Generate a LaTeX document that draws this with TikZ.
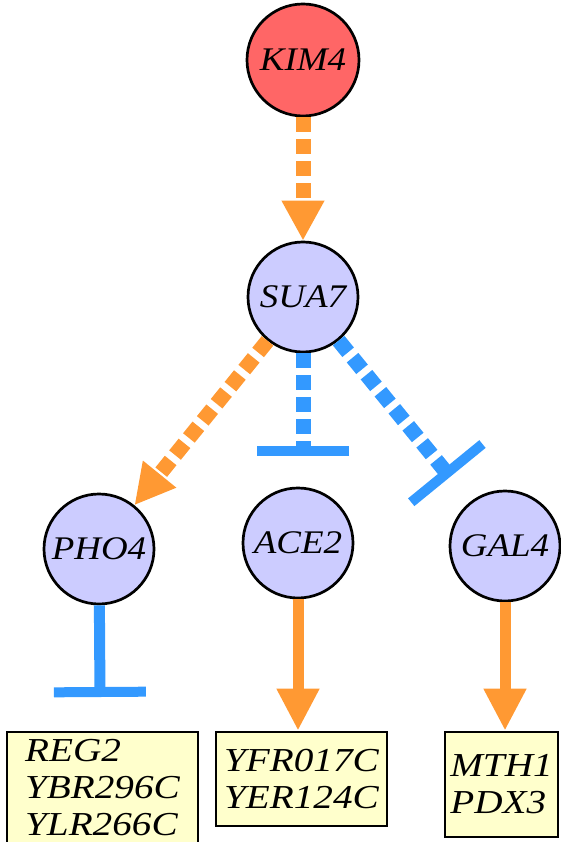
\documentclass[tikz,border=0pt]{standalone}
\usepackage{fontspec}
\newfontfamily\gfont[FakeStretch=1.12]{Liberation Serif}
\newfontfamily\bfontx[FakeStretch=1.17]{Liberation Serif}
\usetikzlibrary{arrows.meta}
\definecolor{nodered}{HTML}{FF6666}
\definecolor{nodeblue}{HTML}{CCCCFF}
\definecolor{boxyellow}{HTML}{FFFFCC}
\definecolor{actorange}{HTML}{FF9933}
\definecolor{inhblue}{HTML}{3399FF}
\tikzset{
  gene/.style={circle, draw=black, line width=2.7pt, fill=nodeblue, minimum size=110pt, inner sep=0pt,
    font=\gfont\itshape\fontsize{33}{37}\selectfont},
  targets/.style={rectangle, draw=black, line width=2.7pt, fill=boxyellow, inner xsep=4pt, align=left,
    font=\bfontx\itshape\fontsize{33.5}{37}\selectfont},
  actdash/.style={draw=actorange, line width=15pt, dash pattern=on 15pt off 7pt, -{Triangle[width=40pt,length=40pt]}},
  inhdash/.style={draw=inhblue, line width=15pt, dash pattern=on 15pt off 7pt, -{Bar[width=92pt,line width=10pt]}},
  actsolid/.style={draw=actorange, line width=11pt, -{Triangle[width=40pt,length=42pt]}},
  inhsolid/.style={draw=inhblue, line width=11pt, -{Bar[width=92pt,line width=10pt]}}
}
\begin{document}
\begin{tikzpicture}[x=1pt,y=-1pt]
\useasboundingbox (0,0) rectangle (560,842);
\node[gene, fill=nodered, minimum size=112pt] (kim4) at (303,60) {KIM4};
\node[gene] (sua7) at (303,297) {SUA7};
\node[gene] (pho4) at (99,549) {PHO4};
\node[gene] (ace2) at (298,543) {ACE2};
\node[gene] (gal4) at (505,546) {GAL4};
\node[targets, minimum width=191pt, minimum height=112pt] (b1) at (102.5,788) {REG2\\YBR296C\\YLR266C};
\node[targets, minimum width=171pt, minimum height=94pt] (b2) at (301.5,779) {YFR017C\\YER124C};
\node[targets, minimum width=113pt, minimum height=105pt] (b3) at (501.5,784.5) {MTH1\\PDX3};
\coordinate (e1) at (303,456);
\coordinate (e2) at (450,477);
\coordinate (e3) at (100,697);
\draw[actdash] (kim4) -- (sua7);
\draw[actdash] (sua7) -- (pho4);
\draw[inhdash] (sua7) -- (e1);
\draw[inhdash] (sua7) -- (e2);
\draw[inhsolid] (pho4) -- (e3);
\draw[actsolid] (ace2) -- (ace2 |- b2.north);
\draw[actsolid] (gal4) -- (gal4 |- b3.north);
\end{tikzpicture}
\end{document}
